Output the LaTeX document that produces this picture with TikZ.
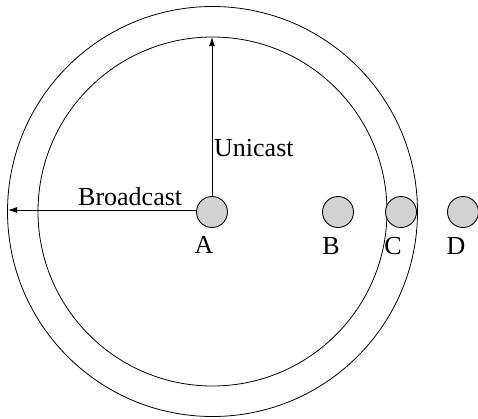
\documentclass[tikz,border=0pt]{standalone}
\usepackage{fontspec}
\setmainfont{Liberation Serif}
\usetikzlibrary{arrows.meta}
\begin{document}
\begin{tikzpicture}[x=1pt,y=-1pt,
  station/.style={circle,draw,line width=0.9pt,fill=gray!35,minimum size=31pt,inner sep=0pt},
  lbl/.style={font=\fontsize{26}{28}\selectfont,anchor=base,inner sep=0pt},
  ring/.style={draw,line width=0.8pt},
  ray/.style={draw,line width=0.9pt,-{Latex[length=9pt,width=6pt]}}]
\useasboundingbox (0,0) rectangle (478,418);
\coordinate (O) at (212.5,211.5);
\draw[ring] (O) circle[radius=205];
\draw[ring] (O) circle[radius=174.5];
\node[station] (A) at (212,212) {};
\node[station] (B) at (338,212) {};
\node[station] (C) at (401,212) {};
\node[station] (D) at (463,212) {};
\node[lbl] (la) at (204,253) {A};
\node[lbl] (lb) at (331,254) {B};
\node[lbl] (lc) at (393,254) {C};
\node[lbl] (ld) at (456,254) {D};
\coordinate (ut) at (212,37);
\coordinate (bt) at (8,210);
\draw[ray] (A.north) -- (ut);
\draw[ray] (A.west |- bt) -- (bt);
\node[lbl,anchor=base west] (uc) at (214,156) {Unicast};
\node[lbl,anchor=base west] (bc) at (78,205) {Broadcast};
\end{tikzpicture}
\end{document}
